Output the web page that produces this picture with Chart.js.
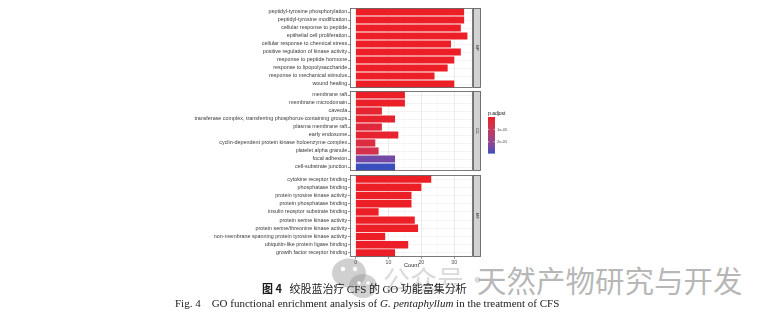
<!DOCTYPE html>
<html>
<head>
<meta charset="utf-8">
<script src="https://cdn.jsdelivr.net/npm/chart.js@4.4.1/dist/chart.umd.min.js"></script>
<style>
  html, body { margin: 0; padding: 0; background: #fff; }
  body { width: 771px; height: 323px; overflow: hidden; position: relative; }
  .facet { position: absolute; left: 0; width: 520px; }
  .facet canvas { display: block; }
  .wm { position: absolute; font-family: "Noto Sans CJK SC", sans-serif; white-space: nowrap; }
  .cap { position: absolute; white-space: pre; color: #1a1a1a; }
  .lat { font-family: "Liberation Serif", serif; }
</style>
</head>
<body>
<!-- watermark of the source account, under the captions -->
<svg class="wm" style="left:330px;top:256px" width="50" height="46" viewBox="0 0 50 46">
  <ellipse cx="19" cy="17" rx="17" ry="14.5" fill="rgba(150,150,150,0.45)"/>
  <ellipse cx="33" cy="30" rx="14" ry="12" fill="rgba(150,150,150,0.45)"/>
  <circle cx="13" cy="13" r="2.2" fill="#fff"/>
  <circle cx="25" cy="13" r="2.2" fill="#fff"/>
  <circle cx="29" cy="27" r="1.8" fill="#fff"/>
  <circle cx="38" cy="27" r="1.8" fill="#fff"/>
</svg>
<div class="wm" style="left:383px;top:259px;font-size:27px;color:rgba(150,150,150,0.35)">公众号</div>
<div class="wm" style="left:464px;top:259px;font-size:27px;color:rgba(150,150,150,0.35)">·</div>
<div class="wm" style="left:477px;top:258px;font-size:29.5px;color:rgba(120,120,120,0.55)">天然产物研究与开发</div>

<div class="facet" id="fBP" style="top:0;height:96px"><canvas id="cBP"></canvas></div>
<div class="facet" id="fCC" style="top:83px;height:96px"><canvas id="cCC"></canvas></div>
<div class="facet" id="fMF" style="top:167px;height:106px"><canvas id="cMF"></canvas></div>

<div class="cap" style="left:262px;top:280px;font-size:11px;font-family:'Noto Sans CJK SC',sans-serif"><b>图 4</b>   绞股蓝治疗 <span class="lat">CFS</span> 的 <span class="lat">GO</span> 功能富集分析</div>
<div class="cap lat" style="left:175px;top:297px;font-size:11px">Fig. 4    GO functional enrichment analysis of <i>G. pentaphyllum</i> in the treatment of CFS</div>

<script>
// ---- GO enrichment results, one facet per ontology ----
const bpTerms = [
  'peptidyl-tyrosine phosphorylation',
  'peptidyl-tyrosine modification',
  'cellular response to peptide',
  'epithelial cell proliferation',
  'cellular response to chemical stress',
  'positive regulation of kinase activity',
  'response to peptide hormone',
  'response to lipopolysaccharide',
  'response to mechanical stimulus',
  'wound healing'
];
const bpCounts = [33, 33, 32, 34, 29, 32, 30, 28, 24, 30];
const bpPadj   = [2e-13, 2e-13, 1e-12, 5e-12, 8e-12, 1e-11, 3e-11, 5e-11, 8e-11, 1e-10];

const ccTerms = [
  'membrane raft',
  'membrane microdomain',
  'caveola',
  'transferase complex, transferring phosphorus-containing groups',
  'plasma membrane raft',
  'early endosome',
  'cyclin-dependent protein kinase holoenzyme complex',
  'platelet alpha granule',
  'focal adhesion',
  'cell-substrate junction'
];
const ccCounts = [15, 15, 8, 12, 8, 13, 6, 7, 12, 12];
const ccPadj   = [3e-7, 3e-7, 2.0e-6, 1.2e-6, 3.5e-6, 1.5e-6, 4.5e-6, 7.0e-6, 2.45e-5, 2.9e-5];

const mfTerms = [
  'cytokine receptor binding',
  'phosphatase binding',
  'protein tyrosine kinase activity',
  'protein phosphatase binding',
  'insulin receptor substrate binding',
  'protein serine kinase activity',
  'protein serine/threonine kinase activity',
  'non-membrane spanning protein tyrosine kinase activity',
  'ubiquitin-like protein ligase binding',
  'growth factor receptor binding'
];
const mfCounts = [23, 20, 17, 17, 7, 18, 19, 9, 16, 12];
const mfPadj   = [2e-9, 5e-9, 1e-8, 1.5e-8, 2e-8, 3e-8, 4e-8, 6e-8, 8e-8, 1e-7];

const facetNames  = ['BP', 'CC', 'MF'];
const countTicks  = [0, 5, 10, 15, 20, 25, 30, 35];
const legendTicks = [1e-5, 2e-5];
const legendTickLabels = ['1e-05', '2e-05'];

// ---- colour scale: p.adjust mapped red (low) to blue (high) in CIELAB ----
const LOW = [236, 30, 38], HIGH = [58, 78, 190];
function lin(c) { c /= 255; return c <= 0.04045 ? c / 12.92 : Math.pow((c + 0.055) / 1.055, 2.4); }
function delin(c) { c = c <= 0.0031308 ? 12.92 * c : 1.055 * Math.pow(c, 1 / 2.4) - 0.055; return Math.round(Math.max(0, Math.min(1, c)) * 255); }
function rgb2lab(rgb) {
  const [r, g, b] = rgb.map(lin);
  let x = (0.4124 * r + 0.3576 * g + 0.1805 * b) / 0.95047;
  let y = (0.2126 * r + 0.7152 * g + 0.0722 * b);
  let z = (0.0193 * r + 0.1192 * g + 0.9505 * b) / 1.08883;
  const f = t => t > 0.008856 ? Math.cbrt(t) : 7.787 * t + 16 / 116;
  x = f(x); y = f(y); z = f(z);
  return [116 * y - 16, 500 * (x - y), 200 * (y - z)];
}
function lab2rgb([L, A, B]) {
  let y = (L + 16) / 116, x = A / 500 + y, z = y - B / 200;
  const fi = t => t * t * t > 0.008856 ? t * t * t : (t - 16 / 116) / 7.787;
  x = fi(x) * 0.95047; y = fi(y); z = fi(z) * 1.08883;
  const r = 3.2406 * x - 1.5372 * y - 0.4986 * z;
  const g = -0.9689 * x + 1.8758 * y + 0.0415 * z;
  const b = 0.0557 * x - 0.2040 * y + 1.0570 * z;
  return [delin(r), delin(g), delin(b)];
}
const labLow = rgb2lab(LOW), labHigh = rgb2lab(HIGH);
const allPadj = bpPadj.concat(ccPadj, mfPadj);
const pMin = Math.min(...allPadj), pMax = Math.max(...allPadj);
function padjColor(p) {
  const t = Math.max(0, Math.min(1, (p - pMin) / (pMax - pMin)));
  const c = lab2rgb(labLow.map((v, i) => v + (labHigh[i] - v) * t));
  return `rgb(${c[0]},${c[1]},${c[2]})`;
}

// ---- shared drawing pieces ----
const LABEL_FONT = 'Liberation Sans, Arial, sans-serif';
const PLOT_LEFT = 350;      // where every panel begins
const PLOT_RIGHT_PAD = 47;  // strip + legend room

const facetFrame = {
  id: 'facetFrame',
  afterDraw(chart, args, opts) {
    const { ctx, chartArea: a } = chart;
    ctx.save();
    // panel border
    ctx.strokeStyle = '#5a5a5a';
    ctx.lineWidth = 0.8;
    ctx.strokeRect(a.left + 0.5, a.top + 0.5, a.right - a.left - 1, a.bottom - a.top - 1);
    // facet strip on the right
    const sx = a.right, sw = 8;
    ctx.fillStyle = '#d2d2d2';
    ctx.fillRect(sx, a.top, sw, a.bottom - a.top);
    ctx.strokeRect(sx + 0.5, a.top + 0.5, sw - 1, a.bottom - a.top - 1);
    ctx.translate(sx + sw / 2, (a.top + a.bottom) / 2);
    ctx.rotate(Math.PI / 2);
    ctx.fillStyle = '#222';
    ctx.font = `4px ${LABEL_FONT}`;
    ctx.textAlign = 'center';
    ctx.textBaseline = 'middle';
    ctx.fillText(opts.name, 0, 0);
    ctx.restore();

    if (opts.legend) {
      // colourbar for p.adjust
      const lx = 488, ly = 117 - 83, lw = 7, lh = 36;
      ctx.save();
      ctx.fillStyle = '#111';
      ctx.font = `5px ${LABEL_FONT}`;
      ctx.textAlign = 'left';
      ctx.textBaseline = 'alphabetic';
      ctx.fillText('p.adjust', lx, ly - 2.5);
      const steps = 36;
      for (let i = 0; i < steps; i++) {
        const p = pMin + (pMax - pMin) * (i + 0.5) / steps;
        ctx.fillStyle = padjColor(p);
        ctx.fillRect(lx, ly + lh * i / steps, lw, lh / steps + 0.6);
      }
      ctx.strokeStyle = '#fff';
      ctx.lineWidth = 0.6;
      ctx.fillStyle = '#4d4d4d';
      ctx.font = `4px ${LABEL_FONT}`;
      ctx.textBaseline = 'middle';
      legendTicks.forEach((v, i) => {
        const y = ly + lh * (v - pMin) / (pMax - pMin);
        ctx.beginPath();
        ctx.moveTo(lx, y); ctx.lineTo(lx + 1.4, y);
        ctx.moveTo(lx + lw - 1.4, y); ctx.lineTo(lx + lw, y);
        ctx.stroke();
        ctx.fillText(legendTickLabels[i], lx + lw + 2, y);
      });
      ctx.restore();
    }
  }
};

function makeFacet(canvasId, name, terms, counts, padj, bottom, legend) {
  const ctx = document.getElementById(canvasId);
  return new Chart(ctx, {
    type: 'bar',
    data: {
      labels: terms,
      datasets: [{
        label: name,
        data: counts,
        backgroundColor: padj.map(padjColor),
        borderWidth: 0,
        barPercentage: 0.9,
        categoryPercentage: 1.0
      }]
    },
    options: {
      indexAxis: 'y',
      responsive: true,
      maintainAspectRatio: false,
      devicePixelRatio: 1,
      animation: false,
      events: [],
      layout: { padding: { top: 8, bottom: bottom ? 4 : 8, left: 0, right: PLOT_RIGHT_PAD } },
      plugins: {
        legend: { display: false },
        tooltip: { enabled: false },
        facetFrame: { name, legend }
      },
      scales: {
        x: {
          type: 'linear',
          min: -1.7,
          max: 35.7,
          afterBuildTicks: s => { s.ticks = countTicks.map(v => ({ value: v })); },
          afterFit: s => { s.height = bottom ? 12 : 0; },
          border: { display: false },
          grid: {
            color: c => (c.tick && c.tick.value % 10 === 0) ? '#e6e6e6' : '#f1f1f1',
            lineWidth: c => (c.tick && c.tick.value % 10 === 0) ? 0.8 : 0.5,
            drawTicks: bottom,
            tickLength: 2,
            tickColor: c => (c.tick && c.tick.value % 10 === 0) ? '#555' : 'rgba(0,0,0,0)',
            tickWidth: 0.6
          },
          ticks: {
            display: bottom,
            padding: 0.5,
            autoSkip: false,
            maxRotation: 0,
            color: '#4d4d4d',
            font: { family: LABEL_FONT, size: 5.2 },
            callback: v => (v % 10 === 0 ? String(v) : '')
          },
          title: {
            display: bottom,
            text: 'Count',
            color: '#222',
            padding: 0,
            font: { family: LABEL_FONT, size: 5.6 }
          }
        },
        y: {
          type: 'category',
          afterFit: s => { s.width = PLOT_LEFT; },
          border: { display: false },
          grid: {
            offset: false,
            color: '#ededed',
            lineWidth: 0.6,
            drawTicks: true,
            tickLength: 2,
            tickColor: '#555',
            tickWidth: 0.6
          },
          ticks: {
            autoSkip: false,
            padding: 0.8,
            color: '#3a3a3a',
            font: { family: LABEL_FONT, size: 5.4 }
          }
        }
      }
    },
    plugins: [facetFrame]
  });
}

makeFacet('cBP', facetNames[0], bpTerms, bpCounts, bpPadj, false, false);
makeFacet('cCC', facetNames[1], ccTerms, ccCounts, ccPadj, false, true);
makeFacet('cMF', facetNames[2], mfTerms, mfCounts, mfPadj, true, false);
</script>
</body>
</html>
